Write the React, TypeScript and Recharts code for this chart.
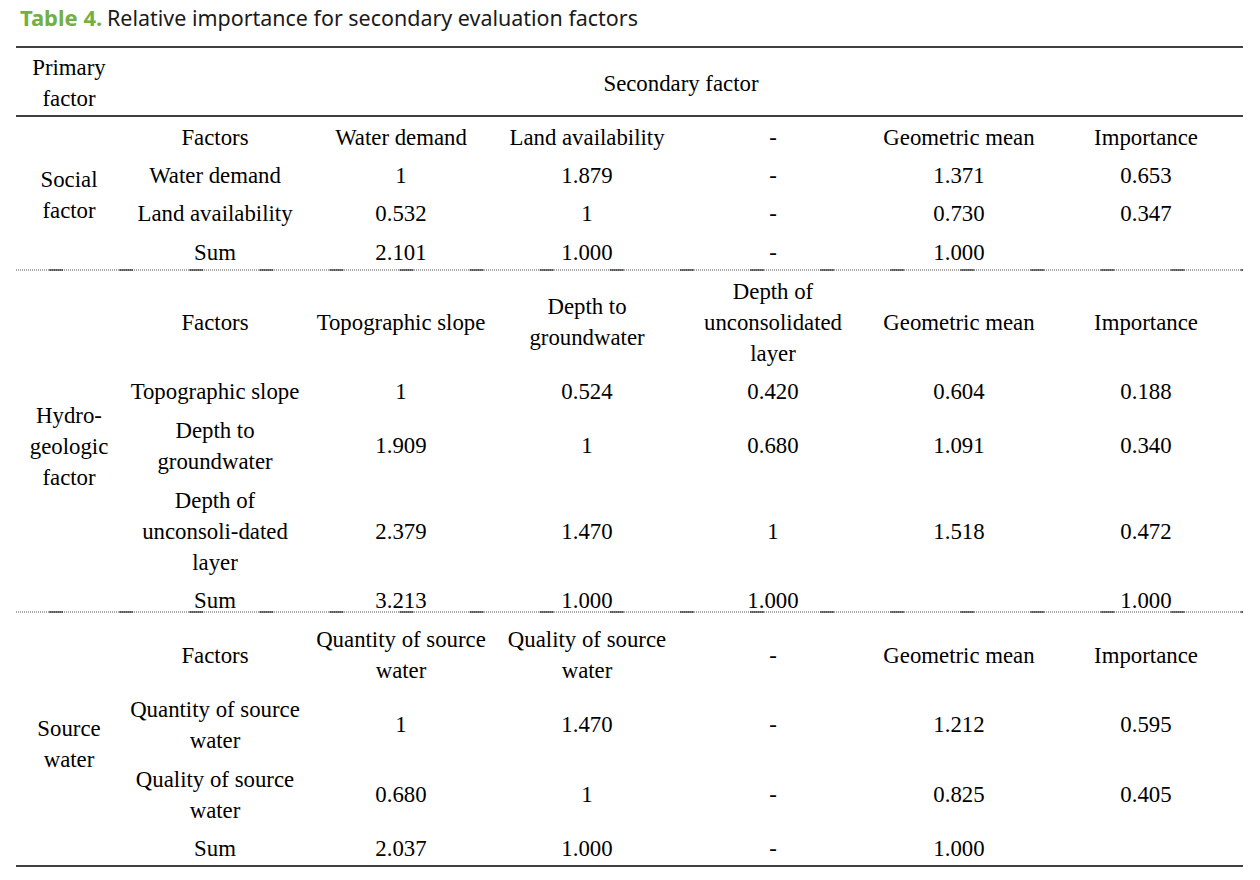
import React from "react";
import { ScatterChart, Scatter, XAxis, YAxis, ReferenceLine } from "recharts";

// ---------- content ----------
const TITLE_LABEL = "Table 4.";
const TITLE_TEXT = "Relative importance for secondary evaluation factors";

const HEADER_PRIMARY = "Primary\nfactor";
const HEADER_SECONDARY = "Secondary factor";

const primaryFactors = ["Social\nfactor", "Hydro-\ngeologic\nfactor", "Source\nwater"];

const socialRows = [
  ["Factors", "Water demand", "Land availability", "-", "Geometric mean", "Importance"],
  ["Water demand", "1", "1.879", "-", "1.371", "0.653"],
  ["Land availability", "0.532", "1", "-", "0.730", "0.347"],
  ["Sum", "2.101", "1.000", "-", "1.000", ""],
];

const hydroRows = [
  ["Factors", "Topographic slope", "Depth to\ngroundwater", "Depth of\nunconsolidated\nlayer", "Geometric mean", "Importance"],
  ["Topographic slope", "1", "0.524", "0.420", "0.604", "0.188"],
  ["Depth to\ngroundwater", "1.909", "1", "0.680", "1.091", "0.340"],
  ["Depth of\nunconsoli-dated\nlayer", "2.379", "1.470", "1", "1.518", "0.472"],
  ["Sum", "3.213", "1.000", "1.000", "", "1.000"],
];

const sourceRows = [
  ["Factors", "Quantity of source\nwater", "Quality of source\nwater", "-", "Geometric mean", "Importance"],
  ["Quantity of source\nwater", "1", "1.470", "-", "1.212", "0.595"],
  ["Quality of source\nwater", "0.680", "1", "-", "0.825", "0.405"],
  ["Sum", "2.037", "1.000", "-", "1.000", ""],
];

const sections = [socialRows, hydroRows, sourceRows];

// ---------- layout ----------
const W = 1260;
const H = 880;
const SERIF = "Liberation Serif, Times New Roman, DejaVu Serif, serif";
const FS = 22.8;
const LH = 31;
const COL_X = [69, 215, 401, 587, 773, 959, 1146];
const SECONDARY_X = 681;
const HEADER_Y = 83;
const SECTION_ROW_Y = [
  [137, 175, 213, 252],
  [322, 391, 445.5, 531, 600],
  [655, 724.5, 794.5, 848],
];
const PRIMARY_Y = [194.5, 446, 743.5];
const LINE_X0 = 16;
const LINE_X1 = 1243;
const SOLID_LINES = [47, 116, 866];
const DOTTED_LINES = [270, 612];

type Cell = { x: number; y: number; label: string };

const cells: Cell[] = [];
cells.push({ x: COL_X[0], y: HEADER_Y, label: HEADER_PRIMARY });
cells.push({ x: SECONDARY_X, y: HEADER_Y, label: HEADER_SECONDARY });
primaryFactors.forEach((p, i) => cells.push({ x: COL_X[0], y: PRIMARY_Y[i], label: p }));
sections.forEach((rows, s) => {
  rows.forEach((row, r) => {
    row.forEach((label, c) => {
      if (label !== "") cells.push({ x: COL_X[c + 1], y: SECTION_ROW_Y[s][r], label });
    });
  });
});

const titleData = [{ x: 20, y: 26 }];

const CellText = (props: any) => {
  const { cx, cy, payload } = props;
  const lines: string[] = payload.label.split("\n");
  const n = lines.length;
  return (
    <text textAnchor="middle" style={{ fontFamily: SERIF, fontSize: FS, fill: "#000" }}>
      {lines.map((ln, i) => (
        <tspan key={i} x={cx} y={cy + (i - (n - 1) / 2) * LH + FS * 0.33}>
          {ln}
        </tspan>
      ))}
    </text>
  );
};

const TitleText = (props: any) => {
  const { cx, cy } = props;
  return (
    <g>
      <text
        x={cx}
        y={cy}
        style={{ fontFamily: "Noto Sans, sans-serif", fontSize: 22, fontWeight: 700, fill: "#72b041" }}
      >
        {TITLE_LABEL}
      </text>
      <text
        x={cx + 87}
        y={cy}
        style={{ fontFamily: "Noto Sans, sans-serif", fontSize: 22, fill: "#1a1a1a" }}
        textLength={531}
        lengthAdjust="spacingAndGlyphs"
      >
        {TITLE_TEXT}
      </text>
    </g>
  );
};

export default function App() {
  return (
    <div style={{ position: "absolute", left: 0, top: 0, background: "#fff" }}>
      <ScatterChart width={W} height={H} margin={{ top: 0, right: 0, bottom: 0, left: 0 }}>
        <XAxis type="number" dataKey="x" domain={[0, W]} hide allowDataOverflow />
        <YAxis type="number" dataKey="y" domain={[0, H]} hide reversed allowDataOverflow />
        {SOLID_LINES.map((y) => (
          <ReferenceLine
            key={"s" + y}
            segment={[{ x: LINE_X0, y }, { x: LINE_X1, y }]}
            stroke="#000"
            strokeWidth={1.5}
          />
        ))}
        {DOTTED_LINES.map((y) => (
          <ReferenceLine
            key={"d" + y}
            segment={[{ x: LINE_X0, y }, { x: LINE_X1, y }]}
            stroke="#555"
            strokeWidth={1}
            strokeDasharray="1 1"
          />
        ))}
        {DOTTED_LINES.map((y) => (
          <ReferenceLine
            key={"dd" + y}
            segment={[{ x: LINE_X0, y }, { x: LINE_X1, y }]}
            stroke="#000"
            strokeWidth={1}
            strokeDasharray="14 56.1"
            strokeDashoffset={37.1}
          />
        ))}
        <Scatter data={titleData} shape={TitleText} isAnimationActive={false} />
        <Scatter data={cells} shape={CellText} isAnimationActive={false} />
      </ScatterChart>
    </div>
  );
}
